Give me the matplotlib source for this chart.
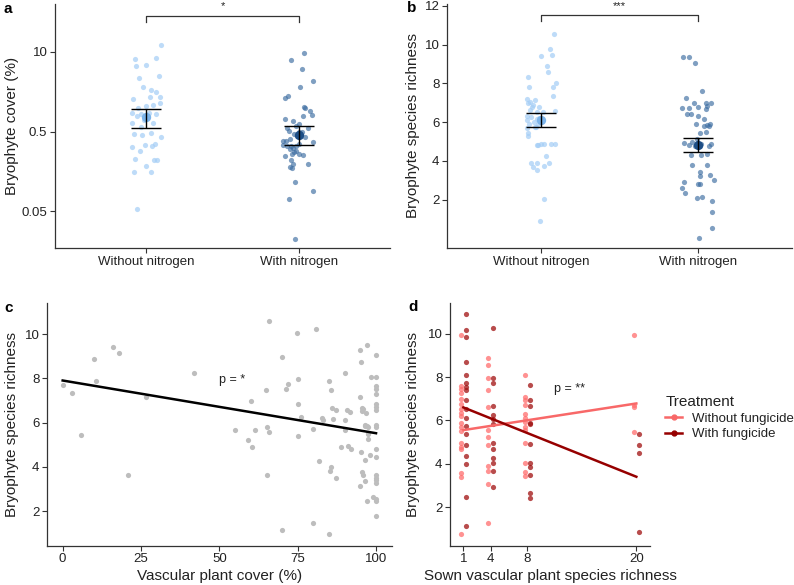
import matplotlib

matplotlib.use("Agg")
import matplotlib.pyplot as plt
from matplotlib.lines import Line2D

plt.rcParams["font.family"] = ["Liberation Sans", "DejaVu Sans"]

# ---- panel a: bryophyte cover, axis units (0 -> 0.05, 1 -> 0.5, 2 -> 10)
cover_ticks = [0, 1, 2]
cover_labels = ["0.05", "0.5", "10"]
groups = ["Without nitrogen", "With nitrogen"]

a_without_x = [1.096, 0.928, 1.061, 0.934, 1.0, 1.083, 0.952, 0.978, 1.028, 1.066, 0.913,
               1.022, 1.092, 1.092, 0.945, 1.0, 1.044, 0.906, 0.963, 1.017, 1.066, 0.939,
               0.991, 1.011, 0.983, 1.041, 0.908, 0.967, 0.921, 0.974, 1.031, 1.096, 0.991,
               1.057, 1.039, 0.906, 0.956, 0.926, 1.048, 1.068, 0.996, 0.921, 1.033, 0.937]
a_without_y = [2.083, 1.908, 1.917, 1.817, 1.838, 1.696, 1.667, 1.558, 1.525, 1.5, 1.408,
               1.433, 1.433, 1.358, 1.3, 1.317, 1.333, 1.233, 1.221, 1.238, 1.221, 1.192,
               1.175, 1.2, 1.146, 1.113, 1.104, 1.058, 0.967, 0.958, 0.979, 0.929, 0.833,
               0.842, 0.817, 0.808, 0.754, 0.65, 0.642, 0.642, 0.567, 0.496, 0.492, 0.029]
a_with_x = [2.033, 1.952, 2.022, 2.092, 2.009, 1.930, 1.913, 2.037, 2.044, 2.074, 2.026,
            2.087, 1.908, 1.961, 2.004, 2.061, 1.926, 1.983, 1.934, 2.004, 1.967, 2.020,
            1.895, 1.917, 1.943, 1.989, 2.039, 2.092, 1.900, 1.924, 1.952, 1.983, 2.004,
            1.945, 1.965, 1.969, 2.004, 1.956, 1.983, 2.026, 1.908, 1.952, 1.961, 1.945,
            1.956, 2.061, 1.974, 2.092, 1.939, 1.974]
a_with_y = [1.983, 1.892, 1.779, 1.629, 1.5625, 1.442, 1.421, 1.304, 1.3, 1.258, 1.196,
            1.213, 1.163, 1.133, 1.092, 1.042, 1.042, 1.071, 1.013, 1.0, 0.975, 0.992,
            0.8875, 0.8875, 0.9125, 0.95, 0.929, 0.875, 0.829, 0.821, 0.817, 0.817, 0.846,
            0.783, 0.796, 0.742, 0.721, 0.721, 0.754, 0.708, 0.696, 0.646, 0.596, 0.554,
            0.542, 0.596, 0.3625, 0.25, 0.15, -0.342]
a_mean = [1.179, 0.9625]
a_low = [1.05, 0.833]
a_high = [1.283, 1.075]

# ---- panel b: bryophyte species richness by nitrogen
b_without_x = [1.085, 1.059, 1.0, 1.070, 1.040, 1.047, 0.919, 1.095, 0.922, 1.076, 1.078,
               0.911, 0.915, 0.960, 0.930, 0.945, 0.951, 0.985, 1.015, 0.928, 0.972, 1.091,
               0.911, 0.936, 0.977, 1.008, 0.987, 0.911, 0.953, 1.0, 0.922, 0.983, 0.958,
               0.970, 0.911, 0.917, 0.915, 0.975, 0.998, 1.019, 0.981, 1.066, 1.091, 1.030,
               0.934, 0.972, 1.051, 0.947, 0.972, 1.019, 1.021, 0.996]
b_without_y = [10.53, 9.76, 9.42, 9.49, 8.92, 8.59, 8.32, 8.01, 7.84, 7.84, 7.36, 7.18, 7.01,
               7.15, 7.03, 6.77, 6.91, 6.81, 6.53, 6.64, 6.55, 6.58, 6.33, 6.27, 6.17, 6.12,
               6.21, 6.12, 6.02, 6.02, 5.91, 5.91, 5.74, 5.74, 5.71, 5.43, 5.28, 4.80, 4.88,
               4.90, 4.85, 4.88, 4.88, 4.25, 3.92, 3.89, 3.91, 3.67, 3.53, 3.75, 2.05, 0.90]
b_with_x = [1.905, 1.941, 1.981, 2.028, 1.922, 1.975, 2.053, 1.896, 1.945, 1.998, 1.953,
            1.932, 2.059, 2.085, 2.049, 2.002, 2.038, 2.078, 1.987, 2.057, 2.070, 2.040,
            2.011, 2.049, 1.911, 1.962, 1.994, 2.017, 1.981, 2.011, 2.081, 1.943, 2.070,
            1.958, 2.021, 2.057, 1.964, 2.059, 2.015, 2.011, 2.078, 1.911, 2.100, 2.011,
            2.0, 1.900, 1.917, 1.992, 2.025, 2.091, 2.091, 2.087, 2.006]
b_with_y = [9.36, 9.36, 9.06, 7.61, 7.27, 6.98, 6.98, 6.72, 6.72, 6.77, 6.43, 6.41, 6.84,
            6.98, 6.69, 6.34, 6.15, 5.91, 5.91, 5.88, 5.81, 5.81, 5.43, 5.47, 4.94, 5.00,
            5.11, 4.88, 4.78, 4.78, 4.88, 4.80, 4.78, 4.32, 4.32, 4.35, 3.80, 3.79, 3.42,
            3.24, 3.27, 2.94, 3.00, 2.82, 2.82, 2.60, 2.36, 2.09, 2.12, 1.91, 1.36, 0.54, 0.03]
b_mean = [6.09, 4.82]
b_low = [5.76, 4.45]
b_high = [6.46, 5.19]

# ---- panel c: richness vs vascular plant cover
c_cover = [0.2, 3.0, 6.0, 10.0, 10.6, 16.0, 18.0, 20.9, 26.5, 41.8, 55.0, 59.0, 60.0, 60.4,
           61.3, 65.0, 65.1, 65.3, 65.7, 66.0, 70.1, 70.1, 71.4, 72.0, 74.9, 75.0, 75.0, 75.0,
           76.2, 79.8, 80.0, 80.7, 81.9, 82.9, 83.2, 85.0, 85.3, 85.5, 85.7, 86.1, 86.2, 87.1,
           87.1, 88.9, 90.2, 90.2, 90.1, 90.6, 91.2, 91.8, 91.9, 95.0, 95.0, 95.0, 95.1, 95.2,
           95.4, 95.5, 95.6, 95.8, 95.8, 96.4, 96.4, 96.5, 96.6, 96.9, 97.1, 97.1, 97.3, 97.3,
           97.4, 97.2, 97.5, 98.1, 98.4, 99.1, 85.1,
           100, 100, 100, 100, 100, 100, 100, 100, 100, 100, 100, 100, 100, 100, 100, 100,
           100, 100, 100]
c_rich = [7.71, 7.33, 5.44, 8.88, 7.86, 9.40, 9.16, 3.63, 7.16, 8.25, 5.67, 5.20, 6.98, 4.89,
          5.67, 7.47, 3.62, 5.78, 5.57, 10.57, 8.96, 1.15, 7.50, 7.75, 10.05, 7.98, 6.83, 5.41,
          6.23, 5.72, 1.45, 10.24, 4.28, 6.20, 6.12, 7.89, 3.82, 7.47, 4.01, 6.67, 6.18, 3.51,
          6.55, 4.89, 8.25, 6.12, 5.66, 6.55, 4.92, 6.46, 4.81, 3.12, 7.16, 9.28, 8.72, 4.68,
          6.53, 3.76, 6.65, 6.62, 3.63, 4.30, 5.90, 5.85, 3.38, 6.44, 9.50, 5.85, 5.81, 5.48,
          5.28, 2.44, 5.55, 4.55, 8.04, 2.62, 0.95,
          9.05, 8.05, 7.63, 7.53, 7.27, 6.85, 6.70, 6.55, 5.88, 5.81, 4.80, 4.46, 3.63, 3.51,
          3.41, 3.29, 2.55, 2.47, 1.76]
c_fit = (7.90, -0.0238)  # intercept, slope

# ---- panel d: richness vs sown species richness, by fungicide
sown_levels = [1, 4, 8, 20]
d_without = {
    1: [9.94, 7.58, 7.43, 7.25, 7.0, 6.78, 6.52, 6.35, 6.2, 5.86, 5.71, 5.5, 4.94, 4.78, 4.68,
        3.58, 3.37, 0.74],
    4: [8.86, 8.55, 7.97, 7.4, 6.63, 5.55, 5.25, 4.86, 3.89, 3.68, 3.05, 1.25],
    8: [8.12, 7.09, 6.94, 6.71, 6.29, 6.12, 5.94, 5.71, 5.55, 4.94, 4.02, 3.63, 3.43],
    20: [9.94, 6.71, 6.6, 5.48],
}
d_with = {
    1: [10.89, 10.17, 9.86, 8.71, 8.09, 7.75, 7.55, 7.40, 6.94, 6.55, 6.09, 5.74, 5.37, 4.89,
        4.35, 4.0, 2.45, 1.12],
    4: [10.25, 7.98, 7.71, 6.66, 6.25, 6.05, 5.83, 4.94, 4.66, 4.29, 4.02, 3.65, 2.94],
    8: [7.63, 6.94, 6.66, 5.89, 5.82, 4.91, 4.05, 3.83, 3.48, 2.66, 2.4],
    20: [5.37, 4.86, 4.51, 0.83],
}
d_fit_without = (5.49, 0.0647)
d_fit_with = (6.77, -0.1684)
treatments = ["Without fungicide", "With fungicide"]

TEXT = "#222222"
AXIS = "#333333"
LIGHT_BLUE, DARK_BLUE = "#a3cdf6", "#3b6ca1"
LIGHT_RED, DARK_RED = "#ff6e6e", "#a01010"
LINE_LIGHT, LINE_DARK = "#f86868", "#960000"
DODGE = 0.27


def style_axes(ax):
    for side in ("top", "right"):
        ax.spines[side].set_visible(False)
    for side in ("left", "bottom"):
        ax.spines[side].set_color(AXIS)
        ax.spines[side].set_linewidth(0.9)
    ax.tick_params(direction="out", length=3.5, width=0.8, color=AXIS,
                   labelsize=9.5, labelcolor=TEXT, pad=2)


def set_labels(ax, xlabel, ylabel, ypos):
    if xlabel:
        ax.set_xlabel(xlabel, fontsize=11, color=TEXT)
        ax.xaxis.label.set_verticalalignment("center")
        ax.xaxis.set_label_coords(0.5, -0.125)
    ax.set_ylabel(ylabel, fontsize=11, color=TEXT)
    ax.yaxis.label.set_verticalalignment("center")
    ax.yaxis.set_label_coords(ypos, 0.5)


def bracket(ax, y_top, y_end, star_y, stars):
    ax.plot([1, 1, 2, 2], [y_end, y_top, y_top, y_end], color=AXIS, lw=0.9, clip_on=False)
    ax.text(1.5, star_y, stars, ha="center", va="center", fontsize=8, color=TEXT)


def group_panel(ax, xs, ys, mean, low, high):
    ax.scatter(xs[0], ys[0], s=14, color=LIGHT_BLUE, alpha=0.7, linewidths=0, zorder=2)
    ax.scatter(xs[1], ys[1], s=14, color=DARK_BLUE, alpha=0.65, linewidths=0, zorder=2)
    ax.scatter([1], [mean[0]], s=45, color="#7cb4ea", linewidths=0, zorder=3)
    ax.scatter([2], [mean[1]], s=45, color="#1d4e86", linewidths=0, zorder=3)
    for i in range(2):
        ax.errorbar([i + 1], [mean[i]], yerr=[[mean[i] - low[i]], [high[i] - mean[i]]],
                    fmt="none", ecolor="black", elinewidth=1.0, capsize=11, capthick=1.0,
                    zorder=4)
    ax.set_xlim(0.4, 2.6)
    ax.set_xticks([1, 2])
    ax.set_xticklabels(groups)


W, H = 794, 585
fig = plt.figure(figsize=(W / 100, H / 100), dpi=100)


def axes_px(left, top, right, bottom):
    return fig.add_axes([left / W, 1 - bottom / H, (right - left) / W, (bottom - top) / H])


# panel a
ax_a = axes_px(55, 4, 390, 248)
group_panel(ax_a, [a_without_x, a_with_x], [a_without_y, a_with_y], a_mean, a_low, a_high)
ax_a.set_ylim(-0.46, 2.6)
ax_a.set_yticks(cover_ticks)
ax_a.set_yticklabels(cover_labels)
style_axes(ax_a)
set_labels(ax_a, None, "Bryophyte cover (%)", -0.128)
bracket(ax_a, 2.45, 2.37, 2.57, "*")

# panel b
ax_b = axes_px(447, 4, 792, 248)
group_panel(ax_b, [b_without_x, b_with_x], [b_without_y, b_with_y], b_mean, b_low, b_high)
ax_b.set_ylim(-0.49, 12.1)
ax_b.set_yticks([2, 4, 6, 8, 10, 12])
style_axes(ax_b)
set_labels(ax_b, None, "Bryophyte species richness", -0.098)
bracket(ax_b, 11.52, 11.23, 12.0, "***")

# panel c
ax_c = axes_px(47, 303, 391.7, 545.7)
ax_c.scatter(c_cover, c_rich, s=14, color="#bdbdbd", linewidths=0, zorder=2)
ax_c.plot([0, 100], [c_fit[0], c_fit[0] + 100 * c_fit[1]], color="black", lw=1.8, zorder=3)
ax_c.text(53.9, 7.93, "p = *", ha="center", va="center", fontsize=9, color=TEXT)
ax_c.set_xlim(-5, 105)
ax_c.set_ylim(0.44, 11.4)
ax_c.set_xticks([0, 25, 50, 75, 100])
ax_c.set_yticks([2, 4, 6, 8, 10])
style_axes(ax_c)
set_labels(ax_c, "Vascular plant cover (%)", "Bryophyte species richness", -0.1015)

# panel d
ax_d = axes_px(450, 303, 650, 545.7)
for level in sown_levels:
    ax_d.scatter([level - DODGE] * len(d_without[level]), d_without[level], s=14,
                 color=LIGHT_RED, alpha=0.75, linewidths=0, zorder=2)
    ax_d.scatter([level + DODGE] * len(d_with[level]), d_with[level], s=14,
                 color=DARK_RED, alpha=0.75, linewidths=0, zorder=2)
for fit, col in ((d_fit_without, LINE_LIGHT), (d_fit_with, LINE_DARK)):
    xs = [sown_levels[0], sown_levels[-1]]
    ax_d.plot(xs, [fit[0] + fit[1] * x for x in xs], color=col, lw=1.8, zorder=3)
ax_d.text(12.7, 7.45, "p = **", ha="center", va="center", fontsize=9, color=TEXT)
ax_d.set_xlim(-0.47, 21.5)
ax_d.set_ylim(0.22, 11.42)
ax_d.set_xticks(sown_levels)
ax_d.set_yticks([2, 4, 6, 8, 10])
style_axes(ax_d)
set_labels(ax_d, "Sown vascular plant species richness", "Bryophyte species richness", -0.185)

handles = [Line2D([], [], color=LINE_LIGHT, lw=1.8, marker="o", markersize=3.5),
           Line2D([], [], color=LINE_DARK, lw=1.8, marker="o", markersize=3.5)]
leg = fig.legend(handles, treatments, title="Treatment", loc="upper left",
                 bbox_to_anchor=(660 / W, 1 - 390 / H), frameon=False, fontsize=9.5,
                 title_fontsize=11, handlelength=1.3, handletextpad=0.7, labelspacing=0.25,
                 alignment="left", borderaxespad=0)
for t in leg.get_texts():
    t.set_color(TEXT)
leg.get_title().set_color(TEXT)

# panel letters
for letter, (px, py) in zip("abcd", [(3, 9), (407, 8), (4, 308), (408, 307)]):
    fig.text(px / W, 1 - py / H, letter, fontsize=11, fontweight="bold", ha="left",
             va="center", color="black")

fig.savefig("out.png", dpi=100)
